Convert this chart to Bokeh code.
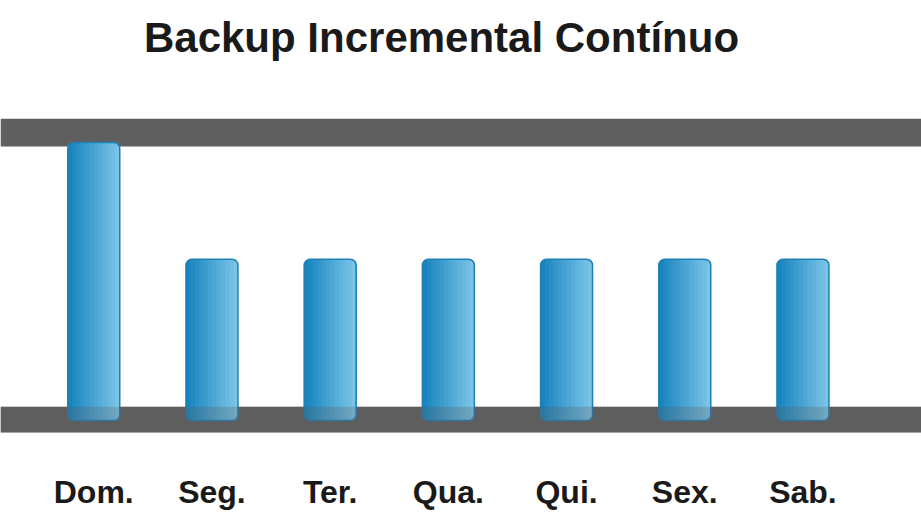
from bokeh.plotting import figure
from bokeh.models import Range1d, BoxAnnotation, Label, ColumnDataSource
from bokeh.core.properties import value
from bokeh.embed import file_html
from bokeh.resources import INLINE

# Backup volume per weekday (full backup on Sunday, incrementals after)
days = ["Dom.", "Seg.", "Ter.", "Qua.", "Qui.", "Sex.", "Sab."]
volume = [100, 58, 58, 58, 58, 58, 58]
title_text = "Backup Incremental Contínuo"

FONT = "Liberation Sans"
BAND = "#5f5f5f"
BAR_W = 0.44
N_SHADES = 12
DARK = (24, 132, 190)
LIGHT = (122, 196, 232)

p = figure(width=921, height=529, output_backend="svg", toolbar_location=None,
           x_range=Range1d(-0.789, 7.003), y_range=Range1d(-39.2, 151.1),
           min_border=0, background_fill_color="white")
p.axis.visible = False
p.grid.visible = False
p.outline_line_color = None

# grey rails behind the bars
p.add_layout(BoxAnnotation(bottom=98.6, top=108.6, fill_color=BAND, fill_alpha=1,
                           line_color=None, level="underlay"))
p.add_layout(BoxAnnotation(bottom=-4.3, top=5.0, fill_color=BAND, fill_alpha=1,
                           line_color=None, level="underlay"))

idx = list(range(len(days)))

# horizontal gradient: stacked layers, each starting further right and lighter
for k in range(N_SHADES):
    t = k / (N_SHADES - 1)
    col = "#%02x%02x%02x" % tuple(int(round(a + (b - a) * t)) for a, b in zip(DARK, LIGHT))
    cut = BAR_W * k / N_SHADES
    w = BAR_W - cut
    xs = [i - BAR_W / 2 + cut + w / 2 for i in idx]
    radius = 6 if k == 0 else (0, 6, 6, 0)
    p.vbar(x=xs, top=volume, bottom=0, width=w, fill_color=col, line_color=None,
           border_radius=radius)

# bar outlines
p.vbar(x=idx, top=volume, bottom=0, width=BAR_W, fill_color=None,
       line_color="#1f7fb6", line_width=1.5, border_radius=6)

# translucent rail over the foot of the bars
p.add_layout(BoxAnnotation(bottom=-4.3, top=5.0, fill_color=BAND, fill_alpha=0.28,
                           line_color=None, level="annotation"))

# weekday labels
src = ColumnDataSource(dict(x=idx, y=[-25.6] * len(days), t=days))
p.text(x="x", y="y", text="t", source=src, text_align="center",
       text_baseline="alphabetic", text_font=value(FONT), text_font_style="bold",
       text_font_size="32px", text_color="#1a1a1a")

p.add_layout(Label(x=441, y=492, x_units="screen", y_units="screen", text=title_text,
                   text_align="center", text_baseline="alphabetic",
                   text_font=FONT, text_font_style="bold", text_font_size="42px",
                   text_color="#1a1a1a"))

open("out.html", "w").write(file_html(p, INLINE))
